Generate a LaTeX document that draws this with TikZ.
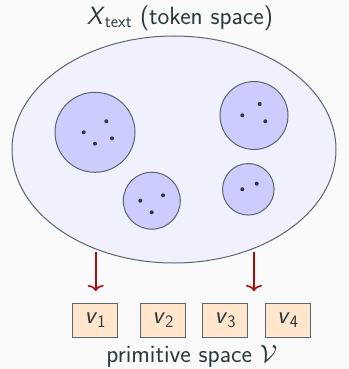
\documentclass[tikz,border=0pt]{standalone}
\usepackage{amsmath}
\usetikzlibrary{arrows.meta}
\definecolor{bgc}{HTML}{FAFAFA}
\definecolor{ellfill}{HTML}{F1F1FE}
\definecolor{cirfill}{HTML}{CCCCFE}
\definecolor{linec}{HTML}{5A666E}
\definecolor{txtc}{HTML}{2B3A40}
\definecolor{arrc}{HTML}{B00A0A}
\definecolor{boxfill}{HTML}{FFE6CC}
\begin{document}
\begin{tikzpicture}[x=1pt,y=-1pt,
  every node/.style={font=\sffamily\fontsize{25}{30}\selectfont, text=txtc},
  space/.style={draw=linec, line width=1pt, fill=ellfill},
  cluster/.style={draw=linec, line width=1pt, fill=cirfill},
  dotm/.style={circle, fill=txtc, inner sep=0pt, minimum size=4pt},
  prim/.style={draw=linec, line width=0.8pt, fill=boxfill, minimum width=45pt, minimum height=34pt, inner sep=0pt},
  maparrow/.style={draw=arrc, line width=1.6pt, -{To[length=6pt,width=16pt]}}]
\fill[bgc] (0,0) rectangle (348,369);
\useasboundingbox (0,0) rectangle (348,369);
\node (title) at (180,18) {$\textsf{\textit{X}}_{\textsf{text}}$ (token space)};
\draw[space] (174,149.5) ellipse [x radius=162, y radius=113.5];
\node[circle, cluster, minimum size=80pt, inner sep=0pt] (c1) at (95,132.3) {};
\node[circle, cluster, minimum size=68pt, inner sep=0pt] (c2) at (254,115.5) {};
\node[circle, cluster, minimum size=57pt, inner sep=0pt] (c3) at (151.8,200.7) {};
\node[circle, cluster, minimum size=51.5pt, inner sep=0pt] (c4) at (248.3,189.3) {};
\node[dotm] (d1) at (83.7,132.3) {};
\node[dotm] (d2) at (106.3,121.3) {};
\node[dotm] (d3) at (112,138.3) {};
\node[dotm] (d4) at (95,143.7) {};
\node[dotm] (d5) at (259.7,104) {};
\node[dotm] (d6) at (242.3,115.3) {};
\node[dotm] (d7) at (265.3,121.3) {};
\node[dotm] (d8) at (140.3,200.7) {};
\node[dotm] (d9) at (163,195.3) {};
\node[dotm] (d10) at (151.7,212.3) {};
\node[dotm] (d11) at (242.3,189.3) {};
\node[dotm] (d12) at (256.7,183.7) {};
\node[prim] (v1) at (95.3,320) {$\textsf{\textit{v}}_{\textsf{1}}$};
\node[prim] (v2) at (163,320) {$\textsf{\textit{v}}_{\textsf{2}}$};
\node[prim] (v3) at (225.3,320) {$\textsf{\textit{v}}_{\textsf{3}}$};
\node[prim] (v4) at (287.8,320) {$\textsf{\textit{v}}_{\textsf{4}}$};
\coordinate (a1) at (95.7,252);
\coordinate (a2) at (254,252);
\coordinate (b1) at (95.7,291);
\coordinate (b2) at (254,291);
\draw[maparrow] (a1) -- (b1);
\draw[maparrow] (a2) -- (b2);
\node (prim) at (191.7,356) {primitive space $\mathcal{V}$};
\end{tikzpicture}
\end{document}
